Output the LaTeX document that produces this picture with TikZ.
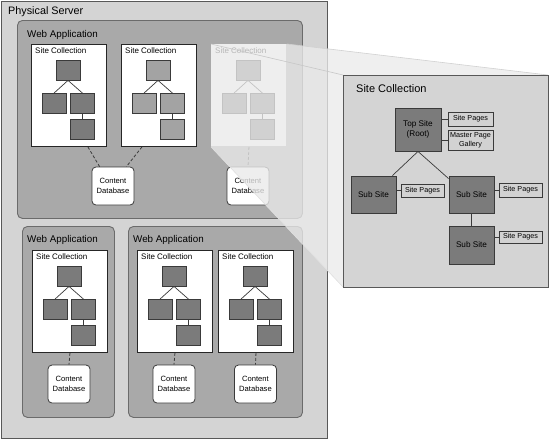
\documentclass[tikz,border=0pt]{standalone}
\usepackage{fontspec}
\setmainfont{Liberation Sans}
\usetikzlibrary{positioning}

\definecolor{servergray}{HTML}{D4D4D4}
\definecolor{appgray}{HTML}{A9A9A9}
\definecolor{darksite}{HTML}{7B7B7B}
\definecolor{midsite}{HTML}{A3A3A3}
\definecolor{pagegray}{HTML}{D2D2D2}
\definecolor{edgegray}{HTML}{3A3A3A}
\definecolor{wedgegray}{HTML}{EAEAEA}

\tikzset{
  server/.style={draw=edgegray!85, fill=servergray, line width=0.9pt, anchor=north west, inner sep=0pt},
  webapp/.style={draw=edgegray!75, fill=appgray, rounded corners=5pt, line width=0.9pt, anchor=north west, inner sep=0pt},
  scbox/.style={draw=black!85, fill=white, line width=0.9pt, anchor=north west, inner sep=0pt,
    minimum width=75pt, minimum height=102pt},
  tbox/.style={draw=edgegray, line width=0.8pt, minimum width=24pt, minimum height=20pt, inner sep=0pt},
  tline/.style={draw=edgegray, line width=0.7pt},
  dbbox/.style={draw=edgegray, fill=white, rounded corners=4pt, line width=0.8pt, align=center,
    minimum width=42pt, minimum height=38pt, inner sep=0pt, font=\fontsize{7.6}{10}\selectfont},
  dbline/.style={draw=edgegray, line width=0.8pt, dash pattern=on 3pt off 2pt},
  bigtitle/.style={anchor=west, inner sep=0pt, font=\fontsize{10.8}{12}\selectfont},
  apptitle/.style={anchor=west, inner sep=0pt, font=\fontsize{9.8}{11}\selectfont},
  sclabel/.style={anchor=west, inner sep=0pt, font=\fontsize{8}{9}\selectfont},
  bigsite/.style={draw=edgegray, fill=darksite, line width=0.9pt, align=center, inner sep=0pt,
    minimum width=45pt, minimum height=37pt, font=\fontsize{8.2}{10}\selectfont},
  pagebox/.style={draw=edgegray, fill=pagegray, line width=0.8pt, align=center, inner sep=0pt,
    minimum width=43pt, minimum height=13pt, font=\fontsize{7.2}{9}\selectfont},
}

% one site collection with its little tree of sites
\newcommand{\sctree}[5]{%
  \begin{scope}[shift={(#2,#3)}]
    \node[scbox,#5] (#1) at (0,0) {};
    \node[sclabel] at (4,7) {Site Collection};
    \node[tbox,fill=#4] (#1a) at (37,26) {};
    \node[tbox,fill=#4] (#1b) at (23,59.5) {};
    \node[tbox,fill=#4] (#1c) at (51.5,59.5) {};
    \node[tbox,fill=#4] (#1d) at (51.5,85.5) {};
    \draw[tline] (#1a.south) -- (#1b.north);
    \draw[tline] (#1a.south) -- (#1c.north);
    \draw[tline] (#1c.south) -- (#1d.north);
  \end{scope}}

\begin{document}
\begin{tikzpicture}[x=1pt, y=-1pt]
  \useasboundingbox (0,0) rectangle (549,440);

  % physical server
  \node[server, minimum width=326pt, minimum height=437pt] (server) at (1,1) {};
  \node[bigtitle] at (8,12) {Physical Server};

  % web applications
  \node[webapp, minimum width=285pt, minimum height=198pt] (app1) at (17,20) {};
  \node[apptitle] at (27,35) {Web Application};
  \node[webapp, minimum width=92pt, minimum height=191pt] (app2) at (22,226) {};
  \node[apptitle] at (27,240) {Web Application};
  \node[webapp, minimum width=174pt, minimum height=191pt] (app3) at (128,226) {};
  \node[apptitle] at (133,240) {Web Application};

  % site collections
  \sctree{sc1}{31}{44}{darksite}{}
  \sctree{sc2}{121}{44}{midsite}{}
  \sctree{sc3}{211}{44}{darksite}{draw=none}
  \sctree{sc4}{32}{250}{darksite}{}
  \sctree{sc5}{137}{250}{darksite}{}
  \sctree{sc6}{218}{250}{darksite}{}

  % content databases
  \node[dbbox] (db1) at (113,186) {Content\\Database};
  \node[dbbox] (db2) at (248,186) {Content\\Database};
  \node[dbbox] (db3) at (69,384) {Content\\Database};
  \node[dbbox] (db4) at (174,384) {Content\\Database};
  \node[dbbox] (db5) at (255.5,384) {Content\\Database};

  \draw[dbline] ([xshift=-19pt]sc1.south east) -- ([xshift=8pt]db1.north west);
  \draw[dbline] ([xshift=21pt]sc2.south west) -- ([xshift=-8pt]db1.north east);
  \draw[dbline] (sc3.south) -- (db2.north);
  \draw[dbline] (sc4.south) -- (db3.north);
  \draw[dbline] (sc5.south) -- (db4.north);
  \draw[dbline] (sc6.south) -- (db5.north);

  % zoom wedge
  \coordinate (zoomnw) at (343,75);
  \coordinate (zoomne) at (548,75);
  \coordinate (zoomse) at (548,287);
  \coordinate (zoomsw) at (343,287);
  \fill[wedgegray, fill opacity=0.78] (sc3.north west) -- (sc3.north east) -- (zoomne)
    -- (zoomse) -- (zoomsw) -- (sc3.south west) -- cycle;
  \draw[black!22, line width=0.6pt] (sc3.north west) -- (zoomnw);
  \draw[black!18, line width=0.6pt] (sc3.north east) -- (zoomne);
  \draw[black!12, line width=0.6pt] (sc3.south west) -- (zoomsw);

  % the site collection, close up
  \node[server, minimum width=205pt, minimum height=212pt] (zoom) at (zoomnw) {};
  \node[bigtitle, font=\fontsize{11}{12}\selectfont] at (356,89) {Site Collection};

  \node[bigsite, minimum width=46pt, minimum height=43pt] (root) at (418,129.5) {Top Site\\(Root)};
  \node[pagebox, minimum width=45pt, minimum height=14pt] (rootpages) at (470.5,119) {Site Pages};
  \node[pagebox, minimum width=45pt, minimum height=20pt, font=\fontsize{7.2}{8.6}\selectfont] (gallery) at (470.5,140) {Master Page\\Gallery};
  \node[bigsite] (subl) at (373.5,194.5) {Sub Site};
  \node[pagebox] (sublpages) at (422.5,190.5) {Site Pages};
  \node[bigsite] (subr) at (471.5,194.5) {Sub Site};
  \node[pagebox, minimum height=14pt] (subrpages) at (520.5,190) {Site Pages};
  \node[bigsite, minimum height=38pt] (subb) at (471.5,245) {Sub Site};
  \node[pagebox, minimum height=12pt] (subbpages) at (520.5,237) {Site Pages};

  \draw[tline] (root.south) -- ([xshift=-4pt]subl.north east);
  \draw[tline] (root.south) -- ([yshift=-3pt]subr.north west);
  \draw[tline] (subr.south) -- (subb.north);
  \draw[tline] (rootpages.west -| root.east) -- (rootpages.west);
  \draw[tline] (gallery.west -| root.east) -- (gallery.west);
  \draw[tline] (sublpages.west -| subl.east) -- (sublpages.west);
  \draw[tline] (subrpages.west -| subr.east) -- (subrpages.west);
  \draw[tline] (subbpages.west -| subb.east) -- (subbpages.west);
\end{tikzpicture}
\end{document}
